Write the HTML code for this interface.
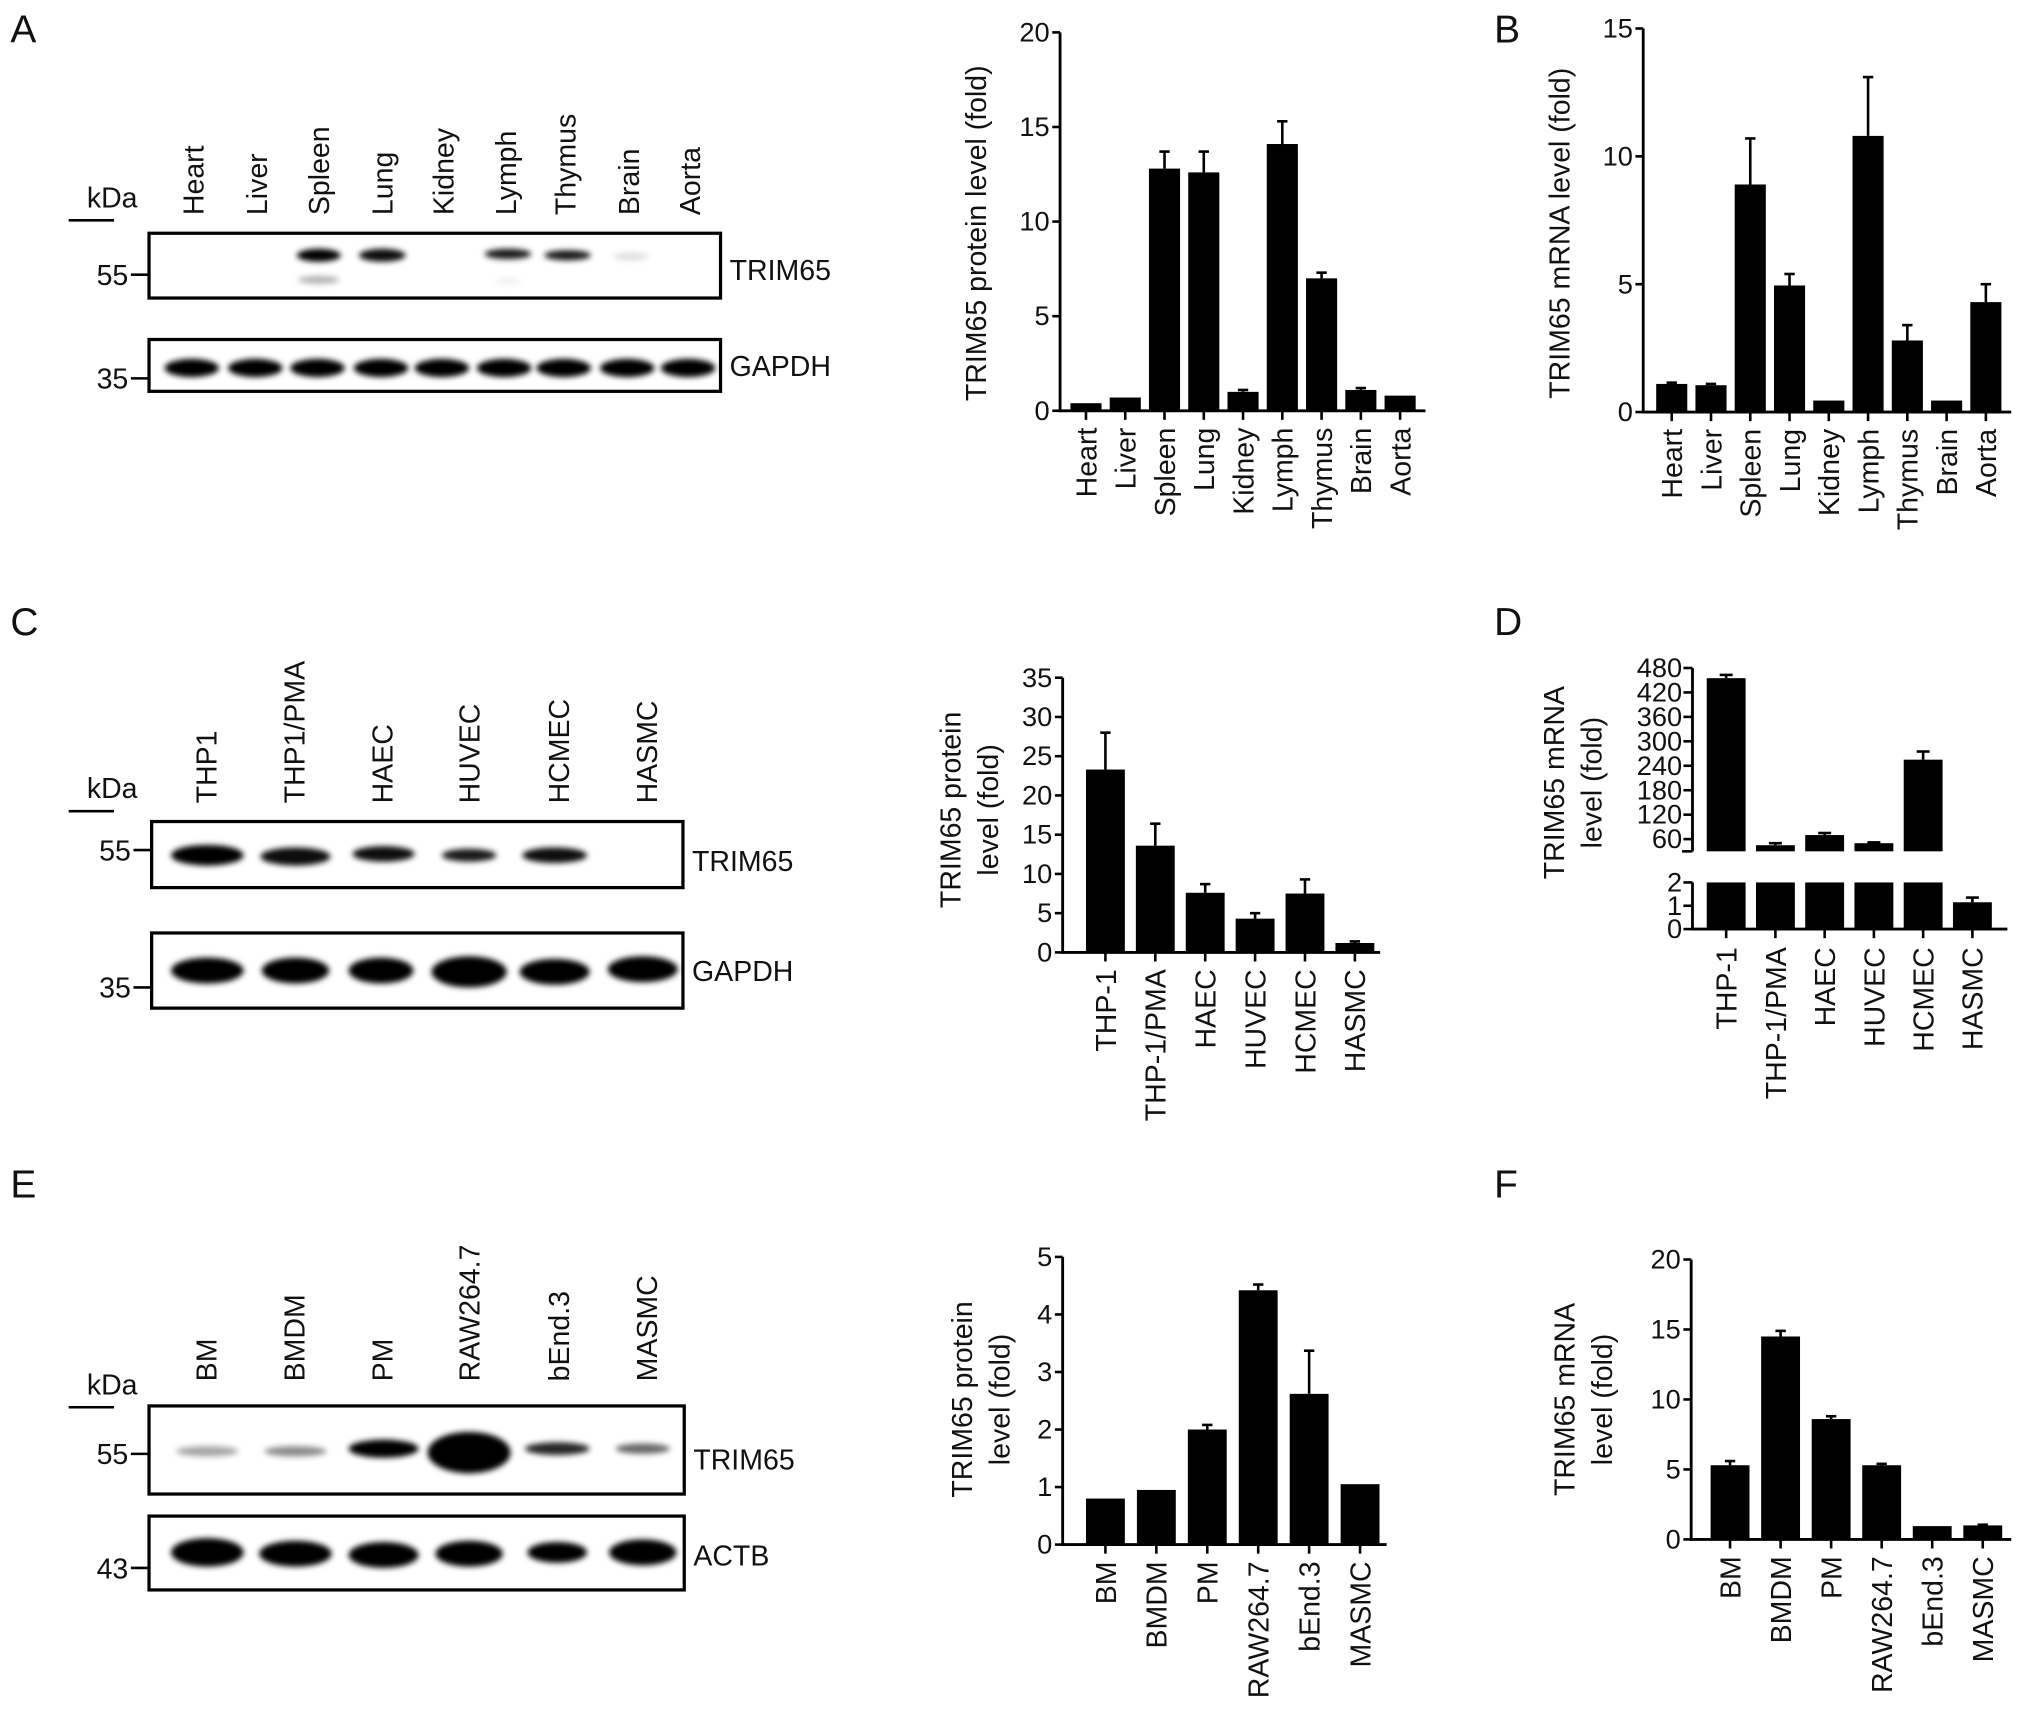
<!DOCTYPE html>
<html><head><meta charset="utf-8">
<style>
html,body{margin:0;padding:0;background:#fff;}
svg{display:block;}
text{font-family:"Liberation Sans",Arial,sans-serif;fill:#111;}
</style></head>
<body>
<svg id="fig" xmlns="http://www.w3.org/2000/svg" width="2032" height="1726" viewBox="0 0 1568 1332" preserveAspectRatio="none">
<defs>
<filter id="blur" x="-30%" y="-100%" width="160%" height="300%"><feGaussianBlur stdDeviation="2.2"/></filter>
</defs>
<g id="root"></g>
</svg>
<script>
// ---- Chart data ----
const tissueCats = ["Heart","Liver","Spleen","Lung","Kidney","Lymph","Thymus","Brain","Aorta"];
const aProtein = [0.4,0.7,12.8,12.6,1.0,14.1,7.0,1.1,0.8];
const aProteinErr = [0,0,0.9,1.1,0.1,1.2,0.3,0.1,0];
const aTicks = [0,5,10,15,20];
const bMrna = [1.1,1.05,8.9,4.95,0.45,10.8,2.8,0.45,4.3];
const bMrnaErr = [0.05,0.05,1.8,0.45,0,2.3,0.6,0,0.7];
const bTicks = [0,5,10,15];
const humanCats = ["THP-1","THP-1/PMA","HAEC","HUVEC","HCMEC","HASMC"];
const cProtein = [23.3,13.6,7.6,4.3,7.5,1.2];
const cProteinErr = [4.7,2.8,1.1,0.7,1.8,0.2];
const cTicks = [0,5,10,15,20,25,30,35];
const dMrna = [455,45,70,50,255,1.15];
const dMrnaErr = [8,5,5,2,20,0.2];
const dUpperTicks = [60,120,180,240,300,360,420,480];
const dLowerTicks = [0,1,2];
const mouseCats = ["BM","BMDM","PM","RAW264.7","bEnd.3","MASMC"];
const eProtein = [0.8,0.95,2.0,4.42,2.62,1.05];
const eProteinErr = [0,0,0.08,0.1,0.75,0];
const eTicks = [0,1,2,3,4,5];
const fMrna = [5.3,14.5,8.6,5.3,0.95,1.0];
const fMrnaErr = [0.3,0.4,0.2,0.1,0,0.05];
const fTicks = [0,5,10,15,20];

const NS="http://www.w3.org/2000/svg";
const root=document.getElementById('root');
function el(tag,attrs,parent){const e=document.createElementNS(NS,tag);for(const k in attrs)e.setAttribute(k,attrs[k]);(parent||root).appendChild(e);return e;}
function txt(s,attrs,parent){const t=el('text',attrs,parent);t.textContent=s;return t;}

function barChart(o){
  const g=el('g',{});
  
  
  const y=v=>o.y0-(v-o.min)/(o.max-o.min)*(o.y0-o.yTop);
  const x=i=>o.c0+i*o.step;
  el('line',{x1:o.ax,y1:o.yTop,x2:o.ax,y2:o.y0+1,stroke:'#000','stroke-width':2.2},g);
  el('line',{x1:o.ax-1,y1:o.y0,x2:o.xEnd,y2:o.y0,stroke:'#000','stroke-width':2.2},g);
  o.ticks.forEach(t=>{
    el('line',{x1:o.ax-6,y1:y(t),x2:o.ax,y2:y(t),stroke:'#000','stroke-width':2},g);
    const tl=txt(String(t),{x:o.ax-8,y:y(t)+7,'text-anchor':'end','font-size':21},g);
    
    
  });
  o.vals.forEach((v,i)=>{
    const cx=x(i);
    const b=el('rect',{x:cx-o.bw/2,y:y(v),width:o.bw,height:o.y0-y(v),fill:'#000'},g);
    
    
    const e=o.errs[i];
    if(e>0){
      el('line',{x1:cx,y1:y(v),x2:cx,y2:y(v+e),stroke:'#000','stroke-width':2},g);
      el('line',{x1:cx-4,y1:y(v+e),x2:cx+4,y2:y(v+e),stroke:'#000','stroke-width':2},g);
    }
    el('line',{x1:cx,y1:o.y0,x2:cx,y2:o.y0+7,stroke:'#000','stroke-width':2},g);
    const lx=cx+8, ly=o.y0+13;
    const l=txt(o.cats[i],{x:lx,y:ly,'text-anchor':'end','font-size':22,transform:`rotate(-90 ${lx} ${ly})`},g);
    
    
  });
  o.title.forEach((line,k)=>{
    const tx=o.tx+k*29, ty=o.ty;
    const t=txt(line,{x:tx,y:ty,'text-anchor':'middle','font-size':22,transform:`rotate(-90 ${tx} ${ty})`},g);
    
    
  });
}

barChart({name:'chart-a-protein',cats:tissueCats,vals:aProtein,errs:aProteinErr,ticks:aTicks,min:0,max:20,ax:818,y0:317,yTop:25,xEnd:1100,c0:838,step:30.3,bw:24,title:['TRIM65 protein level (fold)'],tx:761,ty:180});
barChart({name:'chart-b-mrna',cats:tissueCats,vals:bMrna,errs:bMrnaErr,ticks:bTicks,min:0,max:15,ax:1268,y0:318,yTop:22,xEnd:1552,c0:1290,step:30.3,bw:24,title:['TRIM65 mRNA level (fold)'],tx:1211,ty:180});
barChart({name:'chart-c-protein',cats:humanCats,vals:cProtein,errs:cProteinErr,ticks:cTicks,min:0,max:35,ax:820,y0:735,yTop:523,xEnd:1065,c0:853,step:38.5,bw:30,title:['TRIM65 protein','level (fold)'],tx:741,ty:625});
barChart({name:'chart-e-protein',cats:mouseCats,vals:eProtein,errs:eProteinErr,ticks:eTicks,min:0,max:5,ax:820,y0:1192,yTop:970,xEnd:1070,c0:853,step:39.3,bw:30,title:['TRIM65 protein','level (fold)'],tx:750,ty:1080});
barChart({name:'chart-f-mrna',cats:mouseCats,vals:fMrna,errs:fMrnaErr,ticks:fTicks,min:0,max:20,ax:1305,y0:1188,yTop:972,xEnd:1552,c0:1335,step:39,bw:30,title:['TRIM65 mRNA','level (fold)'],tx:1215,ty:1080});

// ---- Chart D: broken axis ----
(function(){
  const g=el('g',{});
  
  
  const ax=1306, up0=657, upTop=515.5, upMin=30, upMax=480;
  const lo0=717, loTop=681, loMax=2;
  const yU=v=>up0-(v-upMin)/(upMax-upMin)*(up0-upTop);
  const yL=v=>lo0-v/loMax*(lo0-loTop);
  const x=i=>1332+i*38;
  el('line',{x1:ax,y1:upTop,x2:ax,y2:up0,stroke:'#000','stroke-width':2.2},g);
  el('line',{x1:ax-8,y1:up0,x2:ax,y2:up0,stroke:'#000','stroke-width':2},g);
  el('line',{x1:ax,y1:loTop,x2:ax,y2:lo0,stroke:'#000','stroke-width':2.2},g);
  el('line',{x1:ax-1,y1:lo0,x2:1549,y2:lo0,stroke:'#000','stroke-width':2.2},g);
  dUpperTicks.forEach(t=>{
    el('line',{x1:ax-7,y1:yU(t),x2:ax,y2:yU(t),stroke:'#000','stroke-width':2},g);
    const tl=txt(String(t),{x:ax-8,y:yU(t)+7,'text-anchor':'end','font-size':21},g);
    
    
  });
  dLowerTicks.forEach(t=>{
    el('line',{x1:ax-7,y1:yL(t),x2:ax,y2:yL(t),stroke:'#000','stroke-width':2},g);
    const tl=txt(String(t),{x:ax-8,y:yL(t)+7,'text-anchor':'end','font-size':21},g);
    
    
  });
  dMrna.forEach((v,i)=>{
    const cx=x(i), bw=30;
    const lowTop = yL(Math.min(v,loMax));
    const b=el('rect',{x:cx-bw/2,y:lowTop,width:bw,height:lo0-lowTop,fill:'#000'},g);
    
    
    const e=dMrnaErr[i];
    if(v>loMax){
      const bu=el('rect',{x:cx-bw/2,y:yU(v),width:bw,height:up0-yU(v),fill:'#000'},g);
      
      
      el('line',{x1:cx,y1:yU(v),x2:cx,y2:yU(v+e),stroke:'#000','stroke-width':2},g);
      el('line',{x1:cx-5,y1:yU(v+e),x2:cx+5,y2:yU(v+e),stroke:'#000','stroke-width':2},g);
    } else {
      el('line',{x1:cx,y1:yL(v),x2:cx,y2:yL(v+e),stroke:'#000','stroke-width':2},g);
      el('line',{x1:cx-5,y1:yL(v+e),x2:cx+5,y2:yL(v+e),stroke:'#000','stroke-width':2},g);
    }
    el('line',{x1:cx,y1:lo0,x2:cx,y2:lo0+7,stroke:'#000','stroke-width':2},g);
    const lx=cx+8, ly=lo0+14;
    const l=txt(humanCats[i],{x:lx,y:ly,'text-anchor':'end','font-size':22,transform:`rotate(-90 ${lx} ${ly})`},g);
    
    
  });
  ['TRIM65 mRNA','level (fold)'].forEach((s,k)=>{
    const tx=1207+k*29, ty=604;
    const t=txt(s,{x:tx,y:ty,'text-anchor':'middle','font-size':22,transform:`rotate(-90 ${tx} ${ty})`},g);
    
    
  });
})();

// ---- Blots ----
function blot(o){
  const g=el('g',{});
  
  
  const bandsG=el('g',{filter:'url(#blur)'},g);
  o.bands.forEach(b=>{
    el('ellipse',{cx:b[0],cy:b[1],rx:b[2],ry:b[3],fill:'#000','fill-opacity':b[4]},bandsG);
  });
  el('rect',{x:o.x,y:o.y,width:o.w,height:o.h,fill:'none',stroke:'#000','stroke-width':2.5},g);
  el('line',{x1:o.x-14,y1:o.my,x2:o.x,y2:o.my,stroke:'#000','stroke-width':2},g);
  const m=txt(o.marker,{x:o.x-16,y:o.my+8,'text-anchor':'end','font-size':22},g);
  
  
  const lb=txt(o.label,{x:o.x+o.w+7,y:o.ly,'font-size':22},g);
  
  
}
function laneLabels(names,xs,yb,name){
  const g=el('g',{});
  
  
  names.forEach((n,i)=>{
    const t=txt(n,{x:xs[i],y:yb,'font-size':22,transform:`rotate(-90 ${xs[i]} ${yb})`},g);
    
    
  });
}
function kda(x,y){
  const t=txt('kDa',{x:x,y:y,'font-size':22},root);
  
  
  el('line',{x1:x-14,y1:y+10,x2:x+21,y2:y+10,stroke:'#000','stroke-width':2});
}
function letter(s,x,y){
  const t=txt(s,{x:x,y:y,'font-size':30},root);
  
  
}
letter('A',8,33);letter('B',1153,33);letter('C',8,490);letter('D',1153,490);letter('E',8,924);letter('F',1153,924);

// Panel A
const aLaneX=[157,206,254,303,350,398,444,493,540];
laneLabels(["Heart","Liver","Spleen","Lung","Kidney","Lymph","Thymus","Brain","Aorta"],aLaneX,166,'blot-a-lane-labels');
kda(67,160);
blot({name:'blot-a-trim65',x:115,y:180,w:441,h:50,marker:'55',my:212,label:'TRIM65',ly:216,
  bands:[[246,197,17,5,1],[246,216,16,3,0.3],[295,197,18,5,0.95],[392,196,18,4,0.9],[438,197,18,4,0.9],[487,198,14,3,0.12],[392,217,10,3,0.05]]});
blot({name:'blot-a-gapdh',x:115,y:262,w:441,h:40,marker:'35',my:292,label:'GAPDH',ly:290,
  bands:aLaneX.map(x=>[x-9,284,21,7,1])});

// Panel C
const cLaneX=[167,235,303,370,439,507];
laneLabels(["THP1","THP1/PMA","HAEC","HUVEC","HCMEC","HASMC"],cLaneX,620,'blot-c-lane-labels');
kda(67,616);
blot({name:'blot-c-trim65',x:117,y:634,w:410,h:51,marker:'55',my:656,label:'TRIM65',ly:672,
  bands:[[160,660,28,8,1],[228,661,27,7,0.95],[296,659,24,6,0.95],[362,660,21,5,0.9],[428,660,25,6,0.95]]});
blot({name:'blot-c-gapdh',x:117,y:720,w:410,h:58,marker:'35',my:762,label:'GAPDH',ly:757,
  bands:[[160,749,28,10,1],[228,749,26,10,1],[294,749,25,10,1],[362,750,29,12,1],[428,750,27,10,1],[496,748,27,10,1]]});

// Panel E
const eLaneX=[167,235,303,370,439,507];
laneLabels(["BM","BMDM","PM","RAW264.7","bEnd.3","MASMC"],eLaneX,1066,'blot-e-lane-labels');
kda(67,1076);
blot({name:'blot-e-trim65',x:115,y:1085,w:413,h:68,marker:'55',my:1122,label:'TRIM65',ly:1134,
  bands:[[160,1120,24,4,0.35],[228,1120,24,4,0.45],[296,1118,27,7,1],[362,1121,32,16,1],[430,1118,25,5,0.85],[496,1118,21,4,0.6]]});
blot({name:'blot-e-actb',x:115,y:1170,w:413,h:57,marker:'43',my:1210,label:'ACTB',ly:1208,
  bands:[[160,1198,28,11,1],[228,1199,28,10,1],[296,1200,27,10,1],[362,1199,26,10,1],[430,1198,23,8,1],[496,1198,26,10,1]]});
</script>
</body></html>
